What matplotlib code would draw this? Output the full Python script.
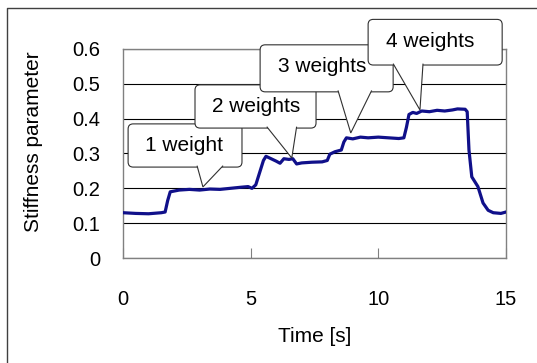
import matplotlib
matplotlib.use("Agg")
import matplotlib.pyplot as plt
from matplotlib.patches import FancyBboxPatch, Polygon
from matplotlib.lines import Line2D

plt.rcParams["font.family"] = ["Liberation Sans", "DejaVu Sans"]

# stiffness trace
time_s = [0.0, 0.5, 1.0, 1.5, 1.65, 1.75, 1.85, 2.2, 2.6, 3.0, 3.4, 3.8, 4.2, 4.6,
          4.9, 5.05, 5.2, 5.35, 5.5, 5.6, 5.8, 6.0, 6.15, 6.3, 6.5, 6.65, 6.8, 7.0,
          7.4, 7.8, 8.0, 8.1, 8.3, 8.55, 8.65, 8.75, 9.0, 9.3, 9.6, 10.0, 10.4, 10.8,
          11.0, 11.1, 11.2, 11.35, 11.5, 11.7, 12.0, 12.3, 12.6, 12.9, 13.1, 13.4,
          13.48, 13.55, 13.66, 13.9, 14.1, 14.3, 14.5, 14.8, 15.0]
stiffness = [0.130, 0.128, 0.127, 0.130, 0.132, 0.165, 0.190, 0.195, 0.197, 0.195,
             0.198, 0.197, 0.200, 0.203, 0.205, 0.200, 0.210, 0.245, 0.280, 0.292,
             0.285, 0.278, 0.272, 0.285, 0.283, 0.285, 0.270, 0.273, 0.275, 0.276,
             0.280, 0.298, 0.305, 0.310, 0.333, 0.345, 0.342, 0.347, 0.345, 0.347,
             0.345, 0.343, 0.345, 0.375, 0.412, 0.418, 0.415, 0.422, 0.420, 0.424,
             0.422, 0.425, 0.428, 0.427, 0.420, 0.310, 0.233, 0.205, 0.158, 0.137,
             0.130, 0.128, 0.132]

x_ticks = [0, 5, 10, 15]
y_ticks = [0, 0.1, 0.2, 0.3, 0.4, 0.5, 0.6]
y_tick_labels = ["0", "0.1", "0.2", "0.3", "0.4", "0.5", "0.6"]

# callouts: label, text centre, box (x0, x1, y0, y1), pointer base (x0, x1), tip
callout_labels = ["1 weight", "2 weights", "3 weights", "4 weights"]
callout_text = [(2.4, 0.324), (5.2, 0.436), (7.8, 0.549), (12.05, 0.621)]
callout_box = [(0.20, 4.66, 0.261, 0.385), (2.82, 7.56, 0.373, 0.497),
               (5.37, 10.58, 0.477, 0.612), (9.6, 14.85, 0.554, 0.685)]
callout_base = [(2.9, 3.92), (5.63, 6.8), (8.42, 9.74), (10.58, 11.75)]
callout_tip = [(3.13, 0.204), (6.61, 0.287), (8.92, 0.359), (11.63, 0.425)]

fig = plt.figure(figsize=(5.37, 3.63), dpi=100)
ax = fig.add_axes([123 / 537, 105 / 363, 383 / 537, 209 / 363])

ax.plot(time_s, stiffness, color="#10108a", lw=2.3, solid_joinstyle="round", zorder=3)

ax.set_xlim(0, 15)
ax.set_ylim(0, 0.6)
ax.set_xticks(x_ticks)
ax.set_yticks(y_ticks)
ax.set_yticklabels(y_tick_labels)
ax.yaxis.grid(True, color="#000000", lw=0.8)
ax.set_axisbelow(True)
for s in ax.spines.values():
    s.set_color("#808080")
    s.set_linewidth(1.0)
ax.tick_params(axis="x", direction="in", length=7, color="#808080", pad=23, labelsize=14.5)
ax.tick_params(axis="y", length=0, pad=16.5, labelsize=14.5)

ax.set_xlabel("Time [s]", fontsize=15)
ax.set_ylabel("Stiffness parameter", fontsize=15)
ax.xaxis.set_label_coords(0.5, -0.33)
ax.yaxis.set_label_coords(-0.209, 0.555)

# data units per pixel, so the box corners come out round
aspect = (0.6 / 209) / (15 / 383)

for lab, (tx, ty), (bx0, bx1, by0, by1), (b0, b1), (px, py) in zip(
        callout_labels, callout_text, callout_box, callout_base, callout_tip):
    box = FancyBboxPatch((bx0, by0), bx1 - bx0, by1 - by0,
                         boxstyle="round,pad=0,rounding_size=0.2",
                         mutation_aspect=aspect, fc="white", ec="#303030",
                         lw=0.8, clip_on=False, zorder=5)
    ax.add_patch(box)
    wedge = Polygon([(b0, by0 + 0.004), (px, py), (b1, by0 + 0.004)], closed=False,
                    fc="white", ec="#303030", lw=0.8, clip_on=False, zorder=6)
    ax.add_patch(wedge)
    ax.text(tx, ty, lab, ha="center", va="center", fontsize=15, zorder=7)

# chart area border (only left and top visible)
fig.add_artist(Line2D([7.5 / 537, 7.5 / 537, 1.0], [0.0, 1 - 8 / 363, 1 - 8 / 363],
                      color="#404040", lw=1.0))

fig.savefig("out.png", dpi=100)
